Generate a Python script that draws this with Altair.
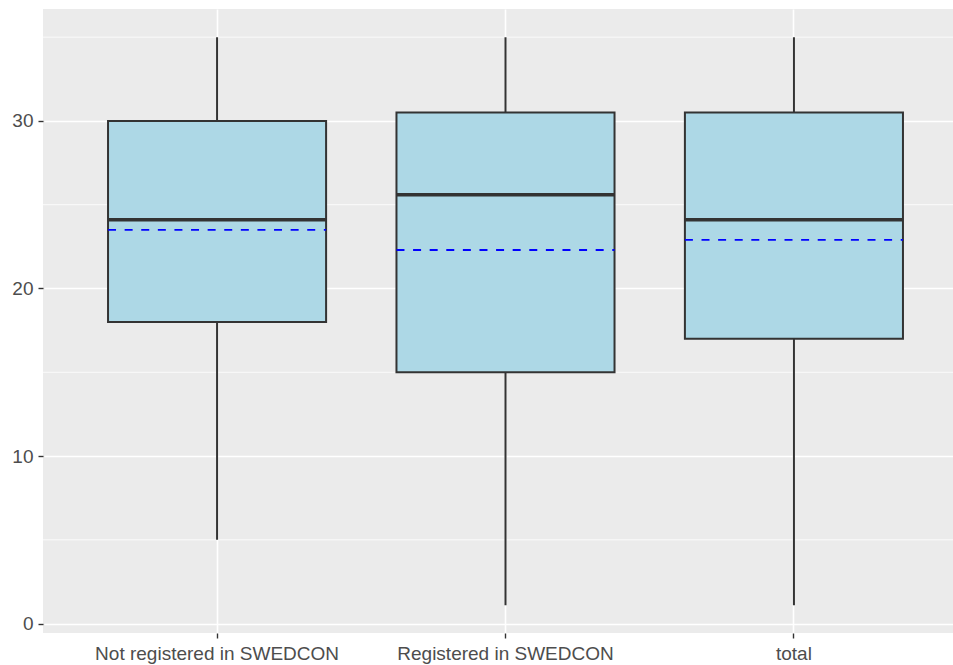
import altair as alt
import pandas as pd

categories = ["Not registered in SWEDCON", "Registered in SWEDCON", "total"]
lower = [5.0, 1.1, 1.1]
q1 = [18.0, 15.0, 17.0]
median = [24.1, 25.6, 24.1]
q3 = [30.0, 30.5, 30.5]
upper = [35.0, 35.0, 35.0]
mean = [23.5, 22.3, 22.9]

major_breaks = [0, 10, 20, 30]
minor_breaks = [5, 15, 25, 35]

df = pd.DataFrame({
    "cat": categories, "lower": lower, "q1": q1, "median": median,
    "q3": q3, "upper": upper, "mean": mean,
})
minor_df = pd.DataFrame({"v": minor_breaks})

BOX = 0.756
L = 0.5 - BOX / 2
R = 0.5 + BOX / 2

xscale = alt.Scale(domain=categories, range=[1, 924], paddingInner=0, paddingOuter=0.1)
yscale = alt.Scale(domain=[-0.56, 36.68], nice=False, zero=False)

xaxis = alt.Axis(
    title=None, labelAngle=0, bandPosition=0.5, grid=True, gridColor="white",
    gridWidth=1.6, domain=False, tickColor="#333333", tickWidth=1.4, tickSize=5,
    labelColor="#4D4D4D", labelFontSize=19, labelFont="Liberation Sans",
    labelPadding=6, labelFlush=False, labelLimit=0,
)
yaxis = alt.Axis(
    title=None, values=major_breaks, grid=True, gridColor="white", gridWidth=1.6,
    domain=False, tickColor="#333333", tickWidth=1.4, tickSize=5,
    labelColor="#4D4D4D", labelFontSize=19, labelFont="Liberation Sans",
    labelPadding=5,
)

base = alt.Chart(df)

minor = alt.Chart(minor_df).mark_rule(color="white", strokeWidth=0.8).encode(
    y=alt.Y("v:Q", scale=yscale, axis=yaxis)
)

whisker = base.mark_rule(color="#333333", strokeWidth=2).encode(
    x=alt.X("cat:N", scale=xscale, axis=xaxis, sort=categories),
    y=alt.Y("lower:Q", scale=yscale),
    y2="upper:Q",
)

box = base.mark_bar(
    width={"band": BOX}, fill="#ADD8E6", stroke="#333333", strokeWidth=2
).encode(
    x=alt.X("cat:N", scale=xscale, sort=categories),
    y=alt.Y("q1:Q", scale=yscale),
    y2="q3:Q",
)

med = base.mark_rule(color="#333333", strokeWidth=3.5).encode(
    x=alt.X("cat:N", scale=xscale, bandPosition=L, sort=categories),
    x2=alt.X2("cat:N", bandPosition=R),
    y=alt.Y("median:Q", scale=yscale),
)

meanline = base.mark_rule(color="#0000FF", strokeWidth=1.9, strokeDash=[8, 8.6]).encode(
    x=alt.X("cat:N", scale=xscale, bandPosition=L, sort=categories),
    x2=alt.X2("cat:N", bandPosition=R),
    y=alt.Y("mean:Q", scale=yscale),
)

chart = alt.layer(minor, whisker, box, med, meanline).properties(
    width=910, height=624,
    padding={"left": 43, "top": 9, "right": 0, "bottom": 32},
    autosize="none", background="white",
).configure_view(fill="#EBEBEB", stroke=None)

chart.save("out.html", embed_options={"renderer": "svg", "actions": False})
